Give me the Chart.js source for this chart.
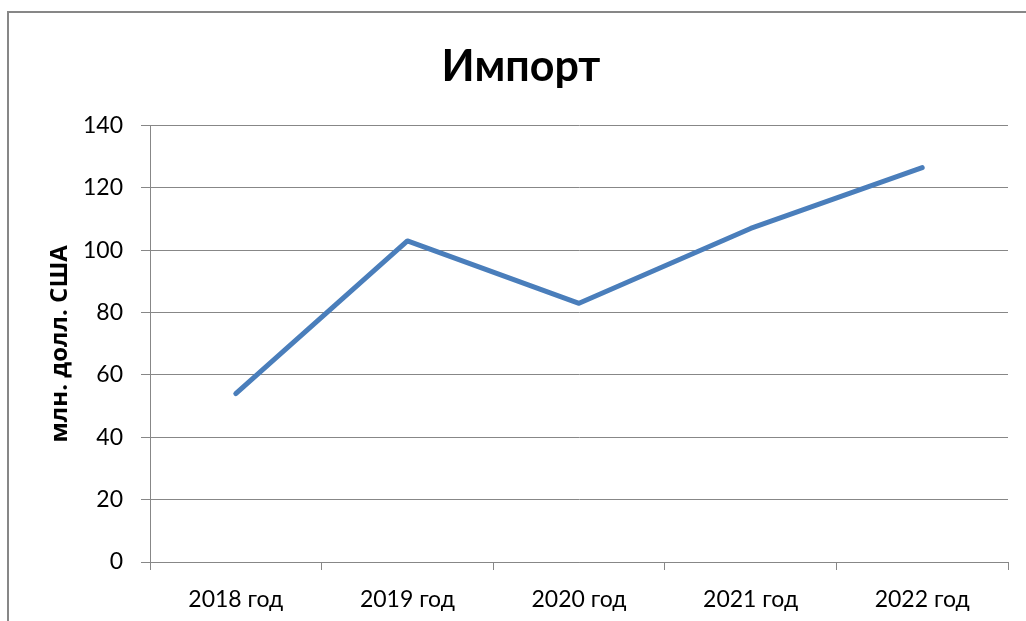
<!DOCTYPE html>
<html>
<head>
<meta charset="utf-8">
<script src="https://cdn.jsdelivr.net/npm/chart.js@4.4.0/dist/chart.umd.min.js"></script>
<style>
  body { margin: 0; background: #fff; }
  #wrap { position: relative; width: 1026px; height: 621px; overflow: hidden; }
  #frame { position: absolute; left: 7px; top: 11px; width: 1100px; height: 700px;
           border-left: 2px solid #878787; border-top: 2px solid #878787; }
  canvas { position: absolute; left: 0; top: 0; }
</style>
</head>
<body>
<div id="wrap">
  <div id="frame"></div>
  <canvas id="importChart" width="1026" height="621"></canvas>
</div>
<script>
const years = ['2018 год', '2019 год', '2020 год', '2021 год', '2022 год'];
const importValues = [54, 103, 83, 107, 126.5];
const yTicks = [0, 20, 40, 60, 80, 100, 120, 140];

const fontFamily = 'Lato, "Open Sans", sans-serif';

const dataImport = {
  labels: years,
  datasets: [{
    label: 'Импорт',
    borderColor: '#4A7EBB',
    backgroundColor: '#4A7EBB',
    borderWidth: 5,
    pointRadius: 0,
    borderCapStyle: 'round',
    borderJoinStyle: 'round',
    tension: 0,
    data: importValues,
  }]
};

const configImport = {
  type: 'line',
  data: dataImport,
  options: {
    responsive: false,
    animation: false,
    layout: { padding: { left: 34, right: 18, top: 0, bottom: 0 } },
    plugins: {
      legend: { display: false },
      tooltip: { enabled: false },
      title: {
        display: true,
        text: 'Импорт',
        color: '#000',
        font: { family: fontFamily, size: 43, weight: 'bold' },
        padding: { top: 41, bottom: 33 }
      }
    },
    scales: {
      x: {
        offset: true,
        afterFit: (scale) => { scale.height = 59; },
        grid: { offset: true, drawOnChartArea: false, color: '#878787', tickLength: 8 },
        border: { color: '#878787' },
        ticks: { color: '#000', padding: 16, maxRotation: 0, font: { family: fontFamily, size: 23 } }
      },
      y: {
        min: 0,
        max: 140,
        afterFit: (scale) => { scale.width = 116; },
        afterBuildTicks: (scale) => { scale.ticks = yTicks.map(v => ({ value: v })); },
        grid: { color: '#878787', tickLength: 9 },
        border: { color: '#878787' },
        ticks: { color: '#000', padding: 18, font: { family: fontFamily, size: 23 } },
        title: {
          display: true,
          text: 'млн. долл. США',
          color: '#000',
          font: { family: '"Open Sans", Lato, sans-serif', size: 24, weight: 'bold' },
          padding: { top: 12, bottom: 0 }
        }
      }
    }
  }
};

const myChartImport = new Chart(
  document.getElementById('importChart'),
  configImport
);
</script>
</body>
</html>
